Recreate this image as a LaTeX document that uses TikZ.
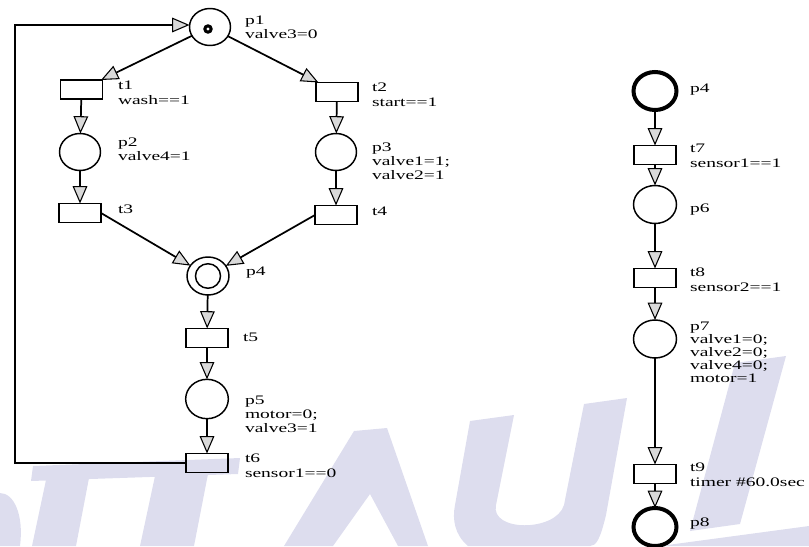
\documentclass[tikz,border=0pt]{standalone}
\usepackage{fontspec}
\setmainfont{Liberation Serif}[FakeStretch=1.5]
\usetikzlibrary{arrows.meta,calc,shapes.geometric}

\definecolor{wmark}{RGB}{221,221,238}

\begin{document}
\begin{tikzpicture}[x=0.75pt,y=-0.75pt,
  every node/.style={inner sep=0pt,outer sep=0pt},
  place/.style={draw,line width=1.1pt,ellipse,minimum width=30.75pt,minimum height=27.75pt},
  rplace/.style={draw,line width=1.1pt,ellipse,minimum width=32.25pt,minimum height=28.5pt},
  boldplace/.style={rplace,line width=3pt},
  trans/.style={draw,line width=1.1pt,rectangle,minimum width=31.5pt,minimum height=14.25pt},
  lbl/.style={anchor=north west,align=left,font=\fontsize{9.75pt}{10.5pt}\selectfont},
  tlbl/.style={anchor=north west,align=left,font=\fontsize{9.75pt}{11.25pt}\selectfont},
  arc/.style={line width=1.3pt,-{Triangle[length=13pt,width=11pt,fill=black!15,line width=0.8pt]}},
  wm/.style={fill=wmark,draw=none}]

\useasboundingbox (0,0) rectangle (809,546);

% faint background lettering
\fill[wm] (0,493) .. controls (14,493) and (24,515) .. (20,546) -- (0,546) -- cycle;
\fill[wm] (33,466) -- (240,458) -- (238,474) -- (31,481) -- cycle;
\fill[wm] (46,480) -- (89,478) -- (76,546) -- (32,546) -- cycle;
\fill[wm] (155,476) -- (208,474) -- (194,546) -- (140,546) -- cycle;
\fill[wm] (284,546) -- (354,431) -- (387,428) -- (428,546) -- (398,546) -- (370,494) -- (333,546) -- cycle;
\fill[wm] (470,421) -- (514,415) -- (496,505) .. controls (490,532) and (556,532) .. (564,505)
  -- (584,404) -- (627,398) -- (606,515) .. controls (600,540) and (596,546) .. (590,546)
  -- (468,546) .. controls (455,535) and (452,520) .. (455,505) -- cycle;
\fill[wm] (735,363) -- (786,356) -- (740,524) -- (690,531) -- cycle;
\fill[wm] (660,546) -- (809,526) -- (809,546) -- cycle;

% ---------- left net ----------
\node[place] (p1) at (210,27) {};
\fill (208,29) circle (3.6pt);
\fill[white] (208,29) circle (1.3pt);
\node[trans] (t1) at (81.5,89.5) {};
\node[trans] (t2) at (337,92) {};
\node[place] (p2) at (80,152) {};
\node[place] (p3) at (336,152) {};
\node[trans] (t3) at (80,213) {};
\node[trans] (t4) at (336,215) {};
\node[place,minimum width=31.5pt,minimum height=28.5pt] (p4) at (208,276) {};
\draw[line width=1.1pt] (p4.center) ellipse [x radius=9.4pt, y radius=9.2pt];
\node[trans] (t5) at (207,338) {};
\node[place,minimum width=32pt,minimum height=29.5pt] (p5) at (207,399) {};
\node[trans] (t6) at (207,463) {};
\coordinate (c1) at (15,463);
\coordinate (c2) at (15,25);

\draw[arc] (p1) -- (t1);
\draw[arc] (p1) -- (t2);
\draw[arc] (t1) -- (p2);
\draw[arc] (t2) -- (p3);
\draw[arc] (p2) -- (t3);
\draw[arc] (p3) -- (t4);
\draw[arc] (t3.east) -- (p4);
\draw[arc] (t4.west) -- (p4);
\draw[arc] (p4) -- (t5);
\draw[arc] (t5) -- (p5);
\draw[arc] (p5) -- (t6);
\draw[arc] (t6.west) -- (c1) -- (c2) -- (p1.west |- c2);

\node[lbl] (lp1) at (245,16) {p1\\valve3=0};
\node[tlbl] (lt1) at (118,81) {t1\\wash==1};
\node[tlbl] (lt2) at (372,83) {t2\\start==1};
\node[lbl] (lp2) at (118,138) {p2\\valve4=1};
\node[lbl] (lp3) at (372,143) {p3\\valve1=1;\\valve2=1};
\node[tlbl] (lt3) at (118,205) {t3};
\node[tlbl] (lt4) at (372,207) {t4};
\node[lbl] (lp4) at (246,267) {p4};
\node[tlbl] (lt5) at (243,333) {t5};
\node[lbl] (lp5) at (245,396) {p5\\motor=0;\\valve3=1};
\node[tlbl] (lt6) at (245,454) {t6\\sensor1==0};

% ---------- right net ----------
\node[boldplace] (q4) at (655,91) {};
\node[trans] (t7) at (655,155) {};
\node[rplace] (p6) at (655,204.5) {};
\node[trans] (t8) at (655,278) {};
\node[rplace] (p7) at (655,339) {};
\node[trans] (t9) at (655,474) {};
\node[boldplace] (p8) at (655,527) {};

\draw[arc] (q4) -- (t7);
\draw[arc] (t7) -- (p6);
\draw[arc] (p6) -- (t8);
\draw[arc] (t8) -- (p7);
\draw[arc] (p7) -- (t9);
\draw[arc] (t9) -- (p8);

\node[lbl] (lq4) at (690,84) {p4};
\node[tlbl] (lt7) at (690,144) {t7\\sensor1==1};
\node[lbl] (lp6) at (690,204) {p6};
\node[tlbl] (lt8) at (690,268) {t8\\sensor2==1};
\node[lbl,font=\fontsize{9.75pt}{9.75pt}\selectfont] (lp7) at (690,322) {p7\\valve1=0;\\valve2=0;\\valve4=0;\\motor=1};
\node[tlbl] (lt9) at (690,463) {t9\\timer \#60.0sec};
\node[lbl] (lp8) at (690,518) {p8};
\end{tikzpicture}
\end{document}
